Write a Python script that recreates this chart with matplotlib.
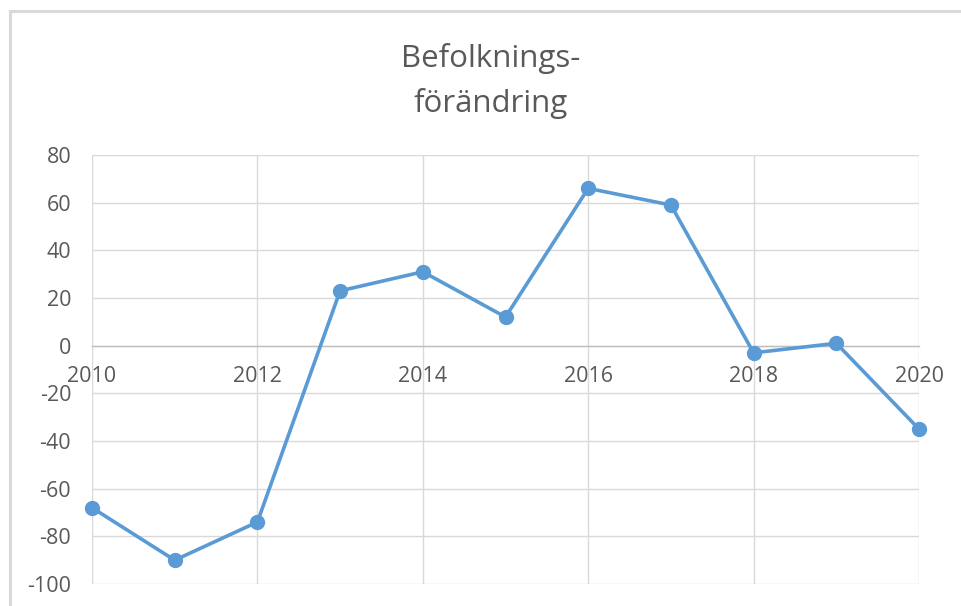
import matplotlib
matplotlib.use("Agg")
import matplotlib.pyplot as plt
from matplotlib.patches import Rectangle

years = [2010, 2011, 2012, 2013, 2014, 2015, 2016, 2017, 2018, 2019, 2020]
values = [-68, -90, -74, 23, 31, 12, 66, 59, -3, 1, -35]
x_ticks = [2010, 2012, 2014, 2016, 2018, 2020]
y_ticks = [-100, -80, -60, -40, -20, 0, 20, 40, 60, 80]
title = "Befolknings-\nförändring"

plt.rcParams['font.family'] = ['Open Sans', 'DejaVu Sans']
plt.rcParams['axes.unicode_minus'] = False
txt = '#595959'

fig = plt.figure(figsize=(9.61, 6.06), dpi=100)
fig.patch.set_facecolor('white')

# chart area border
fig.add_artist(Rectangle((9.5/961, -0.05), 1.2, 1 - 11/606 + 0.05,
                         transform=fig.transFigure, fill=False,
                         edgecolor='#D9D9D9', linewidth=2.2))

ax = fig.add_axes([92/961, 1 - 584/606, (919 - 92)/961, (584 - 155)/606])
ax.set_xlim(2010, 2020)
ax.set_ylim(-100, 80)
ax.set_xticks(x_ticks)
ax.set_yticks(y_ticks)
ax.set_xticklabels([str(t) for t in x_ticks])
ax.set_yticklabels([str(t) for t in y_ticks])
ax.grid(True, color='#D9D9D9', linewidth=1.0)
ax.set_axisbelow(True)
for s in ['left', 'right', 'top']:
    ax.spines[s].set_visible(False)
ax.spines['bottom'].set_position(('data', 0))
ax.spines['bottom'].set_color('#BFBFBF')
ax.spines['bottom'].set_linewidth(1.0)
ax.tick_params(axis='both', length=0, labelsize=15.5, colors=txt)
ax.tick_params(axis='y', pad=15)
ax.tick_params(axis='x', pad=15)

ax.plot(years, values, color='#5B9BD5', linewidth=2.6, marker='o',
        markersize=10, clip_on=False, zorder=3)

fig.text(491/961, 1 - 81/606, title, ha='center', va='center',
         fontsize=22.5, color=txt, linespacing=1.6)

fig.savefig('out.png', dpi=100, facecolor='white')
